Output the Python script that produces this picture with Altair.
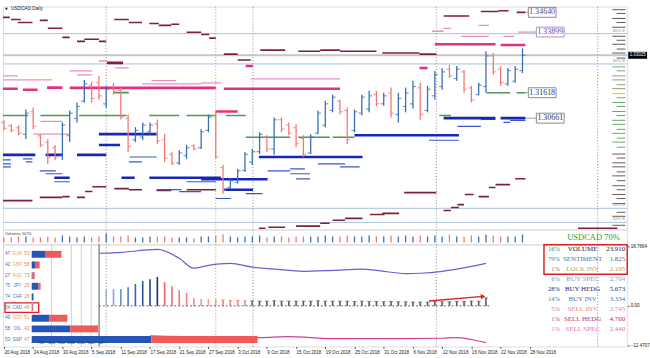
import altair as alt
import pandas as pd

# ---------------- data ----------------
date_labels = ["20 Aug 2018", "24 Aug 2018", "30 Aug 2018", "5 Sep 2018", "11 Sep 2018",
               "17 Sep 2018", "21 Sep 2018", "27 Sep 2018", "3 Oct 2018", "9 Oct 2018",
               "15 Oct 2018", "19 Oct 2018", "25 Oct 2018", "31 Oct 2018", "6 Nov 2018",
               "12 Nov 2018", "16 Nov 2018", "22 Nov 2018", "28 Nov 2018"]
date_bar_index = [0, 4, 8, 12, 16, 20, 24, 28, 32, 36, 40, 44, 48, 52, 56, 60, 64, 68, 72]

opens = [1.3050, 1.3038, 1.3030, 1.3005, 1.3090, 1.3000, 1.2975, 1.2955, 1.2925, 1.3000,
         1.3065, 1.3130, 1.3190, 1.3200, 1.3120, 1.3185, 1.3170, 1.3065, 1.2985, 1.2995,
         1.3015, 1.3045, 1.2985, 1.2930, 1.2898, 1.2925, 1.2962, 1.2955, 1.3020, 1.3075,
         1.2880, 1.2805, 1.2825, 1.2870, 1.2900, 1.2940, 1.2995, 1.2950, 1.3060, 1.3040,
         1.3030, 1.2990, 1.2935, 1.3010, 1.3040, 1.3095, 1.3130, 1.3095, 1.3020, 1.3085,
         1.3100, 1.3155, 1.3120, 1.3160, 1.3080, 1.3110, 1.3120, 1.3180, 1.3095, 1.3150,
         1.3185, 1.3250, 1.3215, 1.3240, 1.3180, 1.3155, 1.3185, 1.3300, 1.3250, 1.3195,
         1.3205, 1.3245]
highs = [1.3058, 1.3043, 1.3039, 1.3099, 1.3106, 1.3006, 1.2987, 1.2965, 1.3050, 1.3095,
         1.3125, 1.3210, 1.3203, 1.3225, 1.3188, 1.3199, 1.3181, 1.3080, 1.3032, 1.3050,
         1.3050, 1.3061, 1.3006, 1.2939, 1.2946, 1.2965, 1.2968, 1.3024, 1.3080, 1.3095,
         1.2890, 1.2838, 1.2875, 1.2939, 1.2950, 1.3013, 1.3002, 1.3069, 1.3069, 1.3050,
         1.3043, 1.3002, 1.3006, 1.3095, 1.3132, 1.3154, 1.3136, 1.3106, 1.3099, 1.3154,
         1.3169, 1.3169, 1.3162, 1.3181, 1.3162, 1.3181, 1.3207, 1.3199, 1.3188, 1.3244,
         1.3255, 1.3266, 1.3262, 1.3247, 1.3188, 1.3199, 1.3318, 1.3311, 1.3262, 1.3255,
         1.3262, 1.3329]
lows = [1.3020, 1.3013, 1.3002, 1.2987, 1.3024, 1.2957, 1.2894, 1.2909, 1.2909, 1.2976,
        1.3050, 1.3125, 1.3125, 1.3136, 1.3106, 1.3154, 1.3061, 1.2939, 1.2976, 1.2983,
        1.3006, 1.2968, 1.2902, 1.2890, 1.2890, 1.2913, 1.2946, 1.2950, 1.3013, 1.2913,
        1.2782, 1.2801, 1.2820, 1.2864, 1.2890, 1.2931, 1.2939, 1.2928, 1.3013, 1.3002,
        1.2957, 1.2920, 1.2931, 1.3006, 1.3032, 1.3088, 1.3080, 1.2968, 1.3013, 1.3076,
        1.3088, 1.3110, 1.3113, 1.3069, 1.3050, 1.3088, 1.3102, 1.3058, 1.3088, 1.3136,
        1.3173, 1.3218, 1.3207, 1.3162, 1.3125, 1.3151, 1.3162, 1.3229, 1.3188, 1.3188,
        1.3199, 1.3236]
closes = [1.3028, 1.3020, 1.3010, 1.3085, 1.3035, 1.2965, 1.2920, 1.2920, 1.3040, 1.3085,
          1.3110, 1.3195, 1.3140, 1.3150, 1.3175, 1.3165, 1.3070, 1.2960, 1.3020, 1.3040,
          1.3040, 1.2980, 1.2915, 1.2898, 1.2935, 1.2955, 1.2950, 1.3015, 1.3070, 1.2920,
          1.2795, 1.2830, 1.2868, 1.2930, 1.2940, 1.3005, 1.2950, 1.3060, 1.3025, 1.3010,
          1.2970, 1.2930, 1.2995, 1.3085, 1.3120, 1.3145, 1.3090, 1.2985, 1.3090, 1.3145,
          1.3150, 1.3120, 1.3150, 1.3085, 1.3140, 1.3160, 1.3185, 1.3080, 1.3175, 1.3230,
          1.3240, 1.3225, 1.3250, 1.3175, 1.3135, 1.3190, 1.3300, 1.3240, 1.3200, 1.3245,
          1.3250, 1.3303]
volumes = [5, 5, 6, 6, 5, 5, 6, 5, 7, 6, 5, 6, 5, 6, 9, 6, 6, 7, 5, 5,
           6, 6, 6, 5, 5, 5, 4, 6, 6, 7, 8, 6, 5, 6, 6, 7, 5, 6, 6, 5,
           6, 6, 6, 6, 7, 6, 6, 7, 6, 6, 7, 6, 6, 7, 6, 7, 6, 7, 6, 7,
           6, 8, 6, 6, 7, 6, 8, 7, 6, 6, 6, 8]

axis_prices = [1.34410, 1.33840, 1.33270, 1.32700, 1.32145, 1.31575, 1.31005, 1.30435,
               1.29865, 1.29310, 1.28740, 1.28170, 1.27600, 1.27040, 1.26475]
bid_price = 1.33025
guide_levels = [1.33840, 1.32700, 1.27270, 1.26740]
guide_texts = ["40% E", "30% E", "20% E", "10% E"]
vline_index = [14.0, 29.0, 34.1, 59.2, 81.3]

level_values = [1.34640, 1.33899, 1.31618, 1.30661]

# level segments: (from bar, to bar, price)
seg_maroon = [(-0.2, 0.8, 1.3445), (0.95, 2.3, 1.3437), (1.9, 3.9, 1.3426), (4.9, 6.0, 1.3434),
              (6.0, 8.0, 1.3404), (8.0, 9.0, 1.3370), (10.0, 11.1, 1.3355), (11.0, 13.0, 1.3363),
              (13.0, 14.0, 1.3355), (15.1, 17.1, 1.3437), (17.1, 18.9, 1.3426), (19.9, 21.2, 1.3422),
              (21.2, 22.9, 1.3415), (22.9, 24.0, 1.3419), (25.0, 27.0, 1.3389), (27.0, 28.1, 1.3381),
              (28.1, 29.0, 1.3367), (30.1, 32.0, 1.3307), (32.0, 33.8, 1.3285), (35.1, 38.5, 1.3322),
              (40.3, 43.3, 1.3318), (43.3, 46.0, 1.3322), (46.0, 51.0, 1.3318), (51.8, 56.9, 1.3311),
              (56.9, 59.2, 1.3307), (60.2, 63.7, 1.3450), (65.3, 67.7, 1.3467), (67.7, 69.1, 1.3470),
              (70.2, 71.4, 1.3464),
              (-0.2, 3.9, 1.2756), (4.9, 8.0, 1.2768), (8.0, 9.0, 1.2771), (10.0, 11.1, 1.2768),
              (11.1, 12.1, 1.2790), (12.1, 14.0, 1.2808), (15.1, 17.1, 1.2801), (17.1, 18.9, 1.2797),
              (20.9, 22.9, 1.2794), (25.0, 29.0, 1.2797), (34.9, 35.8, 1.2652), (36.2, 38.5, 1.2656),
              (40.0, 43.3, 1.2660), (43.3, 44.6, 1.2671), (45.0, 46.7, 1.2682), (46.7, 49.1, 1.2689),
              (50.1, 52.1, 1.2704), (51.8, 54.1, 1.2708), (54.8, 59.2, 1.2786), (60.2, 61.2, 1.2719),
              (61.2, 62.3, 1.2730), (62.1, 63.0, 1.2741), (63.1, 64.3, 1.2779), (65.0, 66.4, 1.2771),
              (66.4, 67.3, 1.2805), (67.3, 69.3, 1.2816), (70.0, 71.4, 1.2838), (78.6, 84.0, 1.2652)]
seg_maroon_thick = [(14.1, 16.3, 1.3274)]
seg_magenta = [(-0.2, 1.9, 1.3177), (2.6, 4.6, 1.3173), (5.9, 8.0, 1.3181), (9.0, 29.0, 1.3180),
               (30.1, 46.0, 1.3177), (33.1, 34.1, 1.3262), (29.0, 32.0, 1.3091), (59.0, 67.3, 1.3344),
               (68.0, 71.4, 1.3341), (56.9, 58.0, 1.3255)]
seg_pink = [(-0.2, 1.9, 1.3225), (-0.2, 6.6, 1.3210), (9.0, 12.1, 1.3244), (10.0, 12.1, 1.3229),
            (13.0, 14.1, 1.3281), (15.2, 17.1, 1.3255), (20.2, 23.6, 1.3207), (18.9, 27.0, 1.3195),
            (27.0, 29.7, 1.3199), (33.8, 46.0, 1.3214), (58.6, 60.2, 1.3393), (60.2, 61.2, 1.3404),
            (62.6, 66.4, 1.3374), (68.4, 69.9, 1.3374), (70.4, 71.4, 1.33899), (65.0, 66.4, 1.3415),
            (5.0, 8.0, 1.3054), (4.0, 9.0, 1.3006)]
seg_green = [(-0.2, 3.3, 1.3076), (5.0, 9.0, 1.3076), (10.3, 16.8, 1.3076), (19.9, 24.0, 1.3076),
             (25.0, 29.0, 1.3076), (30.4, 33.1, 1.3076), (33.1, 39.2, 1.2994), (40.3, 44.6, 1.2994),
             (45.0, 48.0, 1.2994), (15.1, 17.1, 1.3162), (66.1, 69.3, 1.31618), (70.2, 71.4, 1.31618),
             (59.6, 61.2, 1.3076)]
seg_blue_thick = [(-0.2, 4.3, 1.2928), (5.7, 8.0, 1.2928), (10.0, 14.0, 1.2928), (13.0, 20.9, 1.3006),
                  (13.0, 15.9, 1.2965), (6.9, 9.0, 1.2842), (16.1, 17.9, 1.2842), (19.9, 29.7, 1.2842),
                  (27.0, 36.1, 1.2836), (30.1, 34.1, 1.2797), (34.9, 49.1, 1.2920), (48.0, 62.3, 1.3002),
                  (60.2, 67.3, 1.30661), (68.0, 71.4, 1.30661)]
seg_blue_thin = [(-0.2, 0.95, 1.2909), (-0.2, 0.95, 1.2894), (-0.2, 0.95, 1.2883), (2.6, 3.9, 1.2913),
                 (3.0, 3.9, 1.2902), (4.9, 7.1, 1.2868), (5.7, 8.0, 1.2857), (6.9, 9.0, 1.2827),
                 (17.2, 20.9, 1.2920), (17.1, 18.9, 1.2902), (20.9, 24.3, 1.2797), (24.0, 27.0, 1.2790),
                 (25.0, 29.0, 1.2827), (29.0, 31.1, 1.2764), (33.1, 35.4, 1.2782), (36.1, 39.2, 1.2868),
                 (39.2, 41.2, 1.2875), (39.2, 41.9, 1.2857), (40.0, 41.9, 1.2838), (43.0, 46.7, 1.2894),
                 (46.0, 48.7, 1.2883), (58.2, 62.3, 1.2983), (62.1, 65.3, 1.3035), (65.3, 67.3, 1.3061),
                 (68.4, 69.3, 1.3050), (69.3, 71.4, 1.3058)]

ladder_prices = [1.3474, 1.3460, 1.3441, 1.3426, 1.3408, 1.3374, 1.3359, 1.3344, 1.3326, 1.3311,
                 1.3292, 1.3259, 1.3244, 1.3225, 1.3210, 1.3192, 1.3177, 1.3158, 1.3143, 1.3125,
                 1.3110, 1.3091, 1.3076, 1.3058, 1.3043, 1.3024, 1.3009, 1.2991, 1.2976, 1.2957,
                 1.2931, 1.2916, 1.2898, 1.2883, 1.2864, 1.2849, 1.2831, 1.2812, 1.2797, 1.2779,
                 1.2764, 1.2745, 1.2712, 1.2697, 1.2663]
ladder_kind = "DDDDDDDDDDDOOOOOOYGGGGGGGGGGGGBBBBBBBBBBBBBBB"
ladder_len = "LSLSLLSLSLSLSLLSLLSLSLSLLSLSLSLSLLSLSLSLSLSLL"

# lower panel
cur_names = ["EUR", "GBP", "AUD", "JPY", "CHF", "CAD", "NZD", "OIL", "S&P"]
cur_left = [47, 42, 27, 75, 74, 54, 49, 58, 53]
cur_right = [53, 58, 73, 25, 26, 46, 51, 42, 47]
cur_total = [150, 40, 15, 45, 10, 8, 180, 335, 1140]
cur_scale_labels = ["50", "100", "150", "200", "250", "300", "50"]
cur_scale_units = [50, 100, 150, 200, 250, 300, 350]

hist_index = list(range(14, 67))
hist_values = [5.3, 5.3, 5.3, 5.9, 6.9, 7.8, 8.4, 9.1, 7.5, 6.2, 5.0, 4.1, 2.5, 2.2, 2.2, 2.2,
               1.9, 1.8, 1.7, 1.6, 1.6, 1.5, 1.5, 1.6, 1.5, 1.5, 1.5, 1.5, 1.5, 1.6, 1.5, 1.5,
               1.5, 1.5, 1.4, 1.5, 1.4, 1.4, 1.3, 1.4, 1.3, 1.3, 1.2, 1.2, 1.2, 1.3, 1.3, 1.3,
               1.4, 1.4, 1.5, 1.5, 2.5]

purple_index = [13, 16, 21, 24, 26, 28, 31, 34, 37, 41, 45, 49, 51, 55, 57, 60, 62, 66]
purple_values = [16.6, 16.9, 17.8, 15.0, 11.9, 12.8, 13.4, 12.2, 11.6, 10.9, 11.2, 11.6, 11.2,
                 10.2, 10.3, 10.9, 11.6, 13.4]
pink_index = [20, 35, 39, 45, 54, 60, 62, 64, 66]
pink_values = [-9.4, -10.0, -9.7, -10.3, -10.3, -10.2, -10.0, -10.6, -11.6]

table_pct = ["16%", "79%", "1%", "6%", "28%", "14%", "5%", "1%", "1%"]
table_label = ["VOLUME", "SENTIMENT", "LOCK INV", "BUY SPEC", "BUY HEDG", "BUY INV",
               "SELL INV", "SELL HEDG", "SELL SPEC"]
table_value = ["23.910", "1.825", "2.195", "2.764", "5.673", "3.334", "2.745", "4.760", "2.440"]

# ---------------- styling helpers ----------------
W = 630
H_MAIN, H_VOL, H_LOW = 225, 15, 103
XS = alt.Scale(domain=[-0.136, 85.34], nice=False, zero=False)
PS = alt.Scale(domain=[1.26472, 1.34857], nice=False, zero=False)
VS = alt.Scale(domain=[-2, 13], nice=False, zero=False)
LS = alt.Scale(domain=[-12.783, 19.391], nice=False, zero=False)
CS = alt.Scale(domain=[-145, 3005], nice=False, zero=False)
RC = alt.Scale(domain=[-0.93, 8.65], nice=False, zero=False, reverse=True)
RT = alt.Scale(domain=[-0.495, 9.7], nice=False, zero=False, reverse=True)
SANS = "Liberation Sans"
SERIF = "Liberation Serif"
UP, DOWN = "#3a6fb4", "#f27878"
BOX = "M-1,-0.357L1,-0.357L1,0.357L-1,0.357Z"
CPBOX = "M-1,-0.37L1,-0.37L1,0.37L-1,0.37Z"


def xq(f, axis=None):
    return alt.X(f, scale=XS, axis=axis)


def pq(f, axis=None):
    return alt.Y(f, scale=PS, axis=axis)


ident = lambda f: alt.Color(f, scale=None)

bars = pd.DataFrame({"i": list(range(len(opens))), "o": opens, "h": highs, "l": lows,
                     "c": closes, "v": volumes})
bars["col"] = [UP if c >= o else DOWN for o, c in zip(opens, closes)]

vdf = pd.DataFrame({"i": vline_index})
vdf["col"] = ["#a8a85a" if abs(i - 29.0) < 0.01 else "#8c8c8c" for i in vline_index]


def vlines():
    return alt.Chart(vdf).mark_rule(strokeDash=[1, 2], strokeWidth=1).encode(
        x=xq("i:Q"), color=ident("col:N"))


# ---------------- main price panel ----------------
price_axis = alt.Axis(orient="right", values=axis_prices, labelExpr="format(datum.value, '.5f')",
                      title=None, grid=False, domain=False, tickSize=2, tickColor="#555",
                      labelFontSize=4.6, labelPadding=1, labelColor="#222", labelFont=SANS,
                      minExtent=20, maxExtent=20, labelOverlap=False, labelFlush=False)

guides = alt.Chart(pd.DataFrame({"p": guide_levels, "t": guide_texts}))
guide_lines = guides.mark_rule(color="#a9c2da", strokeWidth=1).encode(y=pq("p:Q", price_axis))
guide_text = guides.mark_text(align="right", baseline="bottom", dy=-1, fontSize=4.4,
                              font=SANS, color="#6f98cf").encode(
    x=alt.value(628), y=pq("p:Q"), text="t:N")
bid_line = alt.Chart(pd.DataFrame({"p": [bid_price]})).mark_rule(
    color="#c6c6c6", strokeWidth=2).encode(y=pq("p:Q"))

seg_styles = [
    (seg_pink, "#e890c2", 1.3),
    (seg_maroon, "#7d2038", 1.6),
    (seg_maroon_thick, "#8b1a3a", 2.6),
    (seg_magenta, "#e4307e", 2.6),
    (seg_green, "#4b9a4b", 1.6),
    (seg_blue_thin, "#3a56cc", 1.2),
    (seg_blue_thick, "#1428b4", 2.6),
]
seg_layers = []
for segs, col, w in seg_styles:
    df = pd.DataFrame(segs, columns=["x0", "x1", "p"])
    seg_layers.append(alt.Chart(df).mark_rule(color=col, strokeWidth=w, clip=True).encode(
        x=xq("x0:Q"), x2="x1:Q", y=pq("p:Q")))

hl_rule = alt.Chart(bars).mark_rule(strokeWidth=1.3).encode(
    x=xq("i:Q"), y=pq("h:Q"), y2="l:Q", color=ident("col:N"))
open_tick = alt.Chart(bars).mark_tick(orient="horizontal", size=3, thickness=1.2, xOffset=-1.6).encode(
    x=xq("i:Q"), y=pq("o:Q"), color=ident("col:N"))
close_tick = alt.Chart(bars).mark_tick(orient="horizontal", size=3, thickness=1.2, xOffset=1.6).encode(
    x=xq("i:Q"), y=pq("c:Q"), color=ident("col:N"))

kind_col = {"D": "#5a5a5a", "O": "#8aa37a", "Y": "#e6c400", "G": "#6aa56a", "B": "#6e5a52"}
lad = pd.DataFrame({"p": ladder_prices, "k": list(ladder_kind), "L": list(ladder_len)})
lad["x0"] = [83.3 if s == "L" else 83.9 for s in lad["L"]]
lad["x1"] = 85.1
lad["col"] = [kind_col[k] for k in lad["k"]]
ladder = alt.Chart(lad).mark_rule(strokeWidth=1).encode(
    x=xq("x0:Q"), x2="x1:Q", y=pq("p:Q"), color=ident("col:N"))

lvl = pd.DataFrame({"p": level_values})
lvl["txt"] = [f"{v:.5f}" for v in level_values]
lvl["xi"] = [73.7, 74.8, 73.7, 74.8]
lvl["x0"] = 71.4
lvl["x1"] = lvl["xi"] - 1.9
lvl["tc"] = ["#6a3a7a", "#7a3a8a", "#333355", "#333355"]
lvl["bc"] = ["#9a7aa0", "#b090c0", "#8a8a9a", "#8a8a9a"]
lvl_link = alt.Chart(lvl).mark_rule(color="#999999", strokeWidth=1).encode(
    x=xq("x0:Q"), x2="x1:Q", y=pq("p:Q"))
lvl_box = alt.Chart(lvl).mark_point(shape=BOX, size=784, filled=True, fill="white", opacity=1,
                                    strokeWidth=1).encode(
    x=xq("xi:Q"), y=pq("p:Q"), stroke=alt.Stroke("bc:N", scale=None))
lvl_text = alt.Chart(lvl).mark_text(font=SERIF, fontSize=8).encode(
    x=xq("xi:Q"), y=pq("p:Q"), text="txt:N", color=ident("tc:N"))

cp = pd.DataFrame({"p": [bid_price], "xi": [86.77], "t": [f"{bid_price:.5f}"]})
cp_box = alt.Chart(cp).mark_point(shape=CPBOX, size=361, filled=True, fill="black", opacity=1).encode(
    x=xq("xi:Q"), y=pq("p:Q"))
cp_text = alt.Chart(cp).mark_text(font=SANS, fontSize=4.5, color="white").encode(
    x=xq("xi:Q"), y=pq("p:Q"), text="t:N")

title_df = pd.DataFrame({"t": ["USDCAD,Daily"], "a": ["\u25bc"]})
title_txt = alt.Chart(title_df).mark_text(align="left", baseline="middle", fontSize=4.8,
                                          font=SANS, color="#222").encode(
    x=alt.value(8), y=alt.value(2.5), text="t:N")
title_tri = alt.Chart(title_df).mark_text(align="left", baseline="middle", fontSize=3.5,
                                          font="DejaVu Sans", color="#222").encode(
    x=alt.value(2), y=alt.value(2.5), text="a:N")

main = alt.layer(guide_lines, bid_line, vlines(), *seg_layers, hl_rule, open_tick, close_tick,
                 ladder, guide_text, lvl_link, lvl_box, lvl_text, cp_box, cp_text,
                 title_tri, title_txt).properties(width=W, height=H_MAIN)

# ---------------- volume strip ----------------
vol_axis = alt.Axis(orient="right", labels=False, ticks=False, domain=False, grid=False,
                    title=None, minExtent=20, maxExtent=20)
vol_bars = alt.Chart(bars).mark_rule(strokeWidth=1.3).encode(
    x=xq("i:Q"), y=alt.Y("v:Q", scale=VS, axis=vol_axis), y2=alt.datum(0), color=ident("col:N"))
vol_txt = alt.Chart(pd.DataFrame({"t": ["USDCAD 70%"], "s": ["Volumes 5070"]}))
vol_name = vol_txt.mark_text(font=SERIF, fontSize=8.6, color="#2f9a3a").encode(
    x=alt.value(596), y=alt.value(8), text="t:N")
vol_lab = vol_txt.mark_text(font=SANS, fontSize=4.2, color="#444", align="left").encode(
    x=alt.value(2), y=alt.value(5), text="s:N")
vol = alt.layer(vlines(), vol_bars, vol_name, vol_lab).properties(width=W, height=H_VOL)

# ---------------- lower indicator panel ----------------
date_expr = "[" + ",".join("'" + d + "'" for d in date_labels) + "][round(datum.value / 4)]"
date_axis = alt.Axis(orient="bottom", values=date_bar_index, labelExpr=date_expr, title=None,
                     grid=False, domain=False, tickSize=2, tickColor="#555", labelFontSize=4.6,
                     labelFont=SANS, labelColor="#222", labelAlign="left", labelPadding=1,
                     labelOverlap=False, labelFlush=False, labelBound=False)
low_axis = alt.Axis(orient="right", values=[18.7664, 0, -12.4707],
                    labelExpr="datum.value == 0 ? '0.00' : format(datum.value, '.4f')",
                    title=None, grid=False, domain=False, tickSize=2, tickColor="#555",
                    labelFontSize=4.6, labelFont=SANS, labelColor="#222", labelPadding=1,
                    minExtent=20, maxExtent=20, labelOverlap=False, labelFlush=False)

blue_grad = ["#a8bde0", "#8aa6d8", "#6a8dcc", "#5076c0", "#3a60b0", "#2a4ea0", "#1e3c8c", "#142e78"]
red_grad = ["#ee5e5e", "#f06a6a", "#f07676", "#f28282", "#f28c8c", "#f49696", "#f49e9e", "#f4a4a4"]
hdf = pd.DataFrame({"i": hist_index, "val": hist_values})
hcols = []
for i in hist_index:
    if i <= 21:
        hcols.append(blue_grad[i - 14])
    elif i <= 29:
        hcols.append(red_grad[i - 22])
    elif i <= 33:
        hcols.append("#f08080")
    else:
        hcols.append("#4a5a70")
hdf["col"] = hcols
hist = alt.Chart(hdf).mark_rule(strokeWidth=1.6).encode(
    x=xq("i:Q", date_axis), y=alt.Y("val:Q", scale=LS, axis=low_axis), y2=alt.datum(0),
    color=ident("col:N"))
caps = alt.Chart(hdf[hdf["i"] >= 30]).mark_tick(orient="horizontal", size=4, thickness=1).encode(
    x=xq("i:Q"), y=alt.Y("val:Q", scale=LS, axis=None), color=ident("col:N"))
zero_line = alt.Chart(pd.DataFrame({"x0": [13.0], "x1": [66.6], "y": [0.0]})).mark_rule(
    strokeDash=[2, 2], color="#666", strokeWidth=1).encode(
    x=xq("x0:Q"), x2="x1:Q", y=alt.Y("y:Q", scale=LS, axis=None))
purple = alt.Chart(pd.DataFrame({"i": purple_index, "v": purple_values})).mark_line(
    color="#6a5fd0", strokeWidth=1.2, interpolate="monotone").encode(
    x=xq("i:Q"), y=alt.Y("v:Q", scale=LS, axis=None))
pinkline = alt.Chart(pd.DataFrame({"i": pink_index, "v": pink_values})).mark_line(
    color="#d0409a", strokeWidth=1.2, interpolate="monotone").encode(
    x=xq("i:Q"), y=alt.Y("v:Q", scale=LS, axis=None))
arrow_df = pd.DataFrame({"x0": [58.2], "x1": [65.6], "y0": [1.56], "y1": [3.0]})
arrow_shaft = alt.Chart(arrow_df).mark_rule(color="#e02020", strokeWidth=1.4).encode(
    x=xq("x0:Q"), x2="x1:Q", y=alt.Y("y0:Q", scale=LS, axis=None), y2="y1:Q")
arrow_head = alt.Chart(arrow_df).mark_point(shape="triangle-right", size=28, filled=True,
                                            color="#e02020", opacity=1, angle=355).encode(
    x=xq("x1:Q"), y=alt.Y("y1:Q", scale=LS, axis=None))

# currency bars
cdf = pd.DataFrame({"row": list(range(len(cur_names))), "name": cur_names,
                    "L": cur_left, "R": cur_right, "T": cur_total})
cdf["mid"] = cdf["T"] * cdf["L"] / 100.0
cdf["zero"] = 0
cdf["ltxt"] = cdf["L"].astype(str)
cdf["rtxt"] = cdf["R"].astype(str)
cdf["ncol"] = ["#f4a66a" if k in (0, 1, 2, 6) else "#4f74b2" for k in cdf["row"]]
cur_blue = alt.Chart(cdf).mark_rule(strokeWidth=7, color="#2456b8").encode(
    x=alt.X("zero:Q", scale=CS, axis=None), x2="mid:Q", y=alt.Y("row:Q", scale=RC, axis=None))
cur_red = alt.Chart(cdf).mark_rule(strokeWidth=7, color="#f25a5a").encode(
    x=alt.X("mid:Q", scale=CS, axis=None), x2="T:Q", y=alt.Y("row:Q", scale=RC, axis=None))
cur_l = alt.Chart(cdf).mark_text(align="left", fontSize=4.8, font=SANS, color="#4f74b2").encode(
    x=alt.value(2), y=alt.Y("row:Q", scale=RC, axis=None), text="ltxt:N")
cur_n = alt.Chart(cdf).mark_text(align="center", fontSize=4.6, font=SANS).encode(
    x=alt.value(14.5), y=alt.Y("row:Q", scale=RC, axis=None), text="name:N", color=ident("ncol:N"))
cur_r = alt.Chart(cdf).mark_text(align="left", fontSize=4.8, font=SANS, color="#f0803c").encode(
    x=alt.value(21.5), y=alt.Y("row:Q", scale=RC, axis=None), text="rtxt:N")
cad_box = alt.Chart(pd.DataFrame({"x0": [-135], "x1": [35], "r0": [4.55], "r1": [5.45]})).mark_rect(
    fillOpacity=0, stroke="#e02020", strokeWidth=1.3).encode(
    x=alt.X("x0:Q", scale=CS, axis=None), x2="x1:Q", y=alt.Y("r0:Q", scale=RC, axis=None), y2="r1:Q")
grid_df = pd.DataFrame({"u": [100, 200, 250, 300]})
cur_grid = alt.Chart(grid_df).mark_rule(color="#cfcfcf", strokeWidth=1).encode(
    x=alt.X("u:Q", scale=CS, axis=None))
cur_edge = alt.Chart(pd.DataFrame({"u": [340]})).mark_rule(color="#555", strokeWidth=1).encode(
    x=alt.X("u:Q", scale=CS, axis=None))
cur_scale = alt.Chart(pd.DataFrame({"u": cur_scale_units, "t": cur_scale_labels})).mark_text(
    fontSize=4.2, font=SANS, color="#333").encode(
    x=alt.X("u:Q", scale=CS, axis=None), y=alt.value(100), text="t:N")

# right table
pct_col = ["#3a9a3a", "#5577aa", "#9a8040", "#6f8fd0", "#1a2a7a", "#4a6fc0", "#e07070", "#c04080", "#e070b0"]
lab_col = ["#222222", "#4a6fa8", "#c0a060", "#7f9fd8", "#1a2a7a", "#4a6fc0", "#e88080", "#b0306a", "#e070b0"]
tdf = pd.DataFrame({"row": list(range(9)), "pct": table_pct, "lab": table_label, "val": table_value,
                    "pc": pct_col, "lc": lab_col})
t_pct = alt.Chart(tdf).mark_text(align="right", font=SERIF, fontSize=6.5).encode(
    x=alt.value(562), y=alt.Y("row:Q", scale=RT, axis=None), text="pct:N", color=ident("pc:N"))
t_lab = alt.Chart(tdf).mark_text(align="center", font=SERIF, fontSize=7).encode(
    x=alt.value(585), y=alt.Y("row:Q", scale=RT, axis=None), text="lab:N", color=ident("lc:N"))
t_val = alt.Chart(tdf).mark_text(align="right", font=SERIF, fontSize=7).encode(
    x=alt.value(628), y=alt.Y("row:Q", scale=RT, axis=None), text="val:N", color=ident("lc:N"))
t_box = alt.Chart(pd.DataFrame({"r0": [-0.45], "r1": [2.48]})).mark_rect(
    fillOpacity=0, stroke="#e02020", strokeWidth=1.5).encode(
    x=alt.value(546), x2=alt.value(630), y=alt.Y("r0:Q", scale=RT, axis=None), y2="r1:Q")

low = alt.layer(hist, vlines(), cur_grid, cur_edge, zero_line, caps, purple, pinkline,
                cur_blue, cur_red, cur_l, cur_n, cur_r, cad_box, cur_scale,
                arrow_shaft, arrow_head, t_pct, t_lab, t_val, t_box).resolve_scale(
    x="independent", y="independent").properties(width=W, height=H_LOW)

chart = alt.vconcat(main, vol, low, spacing=0, bounds="flush").properties(
    padding={"left": 0, "top": 3, "right": 0, "bottom": 0}
).configure_view(stroke="#8f8f8f", strokeWidth=1).configure(background="white")

chart.save("out.html", embed_options={"renderer": "svg", "actions": False})
